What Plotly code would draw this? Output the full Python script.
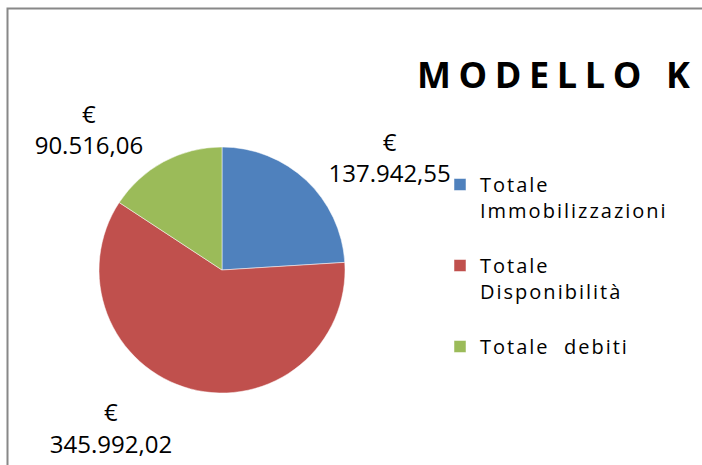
import plotly.graph_objects as go

categories = ["Totale<br>Immobilizzazioni<br>", "Totale<br>Disponibilità<br>", "Totale  debiti"]
values = [137942.55, 345992.02, 90516.06]
colors = ["#4F81BD", "#C0504D", "#9BBB59"]
title_text = "MODELLO K"

W, H = 702, 465
cx, cy, r = 222, 270, 123
r_lab = 132  # radius at which outside labels are anchored


def dom(rad):
    return dict(x=[(cx - rad) / W, (cx + rad) / W],
                y=[(H - cy - rad) / H, (H - cy + rad) / H])


legend_labels = ["<span style='letter-spacing:2px'>" + c + "</span>" for c in categories]

fig = go.Figure()
# transparent pie only carrying the outside value labels (slightly larger radius)
fig.add_trace(go.Pie(
    labels=legend_labels, values=values, sort=False, direction="clockwise", rotation=0,
    marker=dict(colors=["rgba(0,0,0,0)"] * 3, line=dict(width=0)),
    texttemplate="€<br>%{value:,.2f}", textposition="outside",
    textfont=dict(family="Open Sans", size=24, color="black"),
    hoverinfo="skip", showlegend=False, domain=dom(r_lab),
))
fig.add_trace(go.Pie(
    labels=legend_labels, values=values, sort=False, direction="clockwise", rotation=0,
    marker=dict(colors=colors, line=dict(color="white", width=0.5)),
    textinfo="none", hoverinfo="label+value", domain=dom(r),
))

fig.update_layout(
    width=W, height=H,
    margin=dict(l=0, r=0, t=0, b=0),
    paper_bgcolor="white",
    plot_bgcolor="white",
    separators=",.",
    showlegend=True,
    legend=dict(
        x=440 / W, y=(H - 165) / H, xanchor="left", yanchor="top",
        valign="top",
        font=dict(family="Open Sans", size=20, color="black"),
        bgcolor="rgba(0,0,0,0)",
    ),
    annotations=[dict(
        text="<b><span style='letter-spacing:7.6px'>" + title_text + "</span></b>",
        x=415 / W, y=(H - 74.5) / H, xref="paper", yref="paper",
        xanchor="left", yanchor="middle", showarrow=False,
        font=dict(family="Open Sans", size=36, color="black"),
    )],
    shapes=[dict(
        type="rect", xref="paper", yref="paper",
        x0=7.5 / W, x1=1.2, y0=-0.2, y1=(H - 8.5) / H,
        line=dict(color="#888888", width=2), fillcolor="rgba(0,0,0,0)",
    )],
)

fig.write_html("out.html", config={"displayModeBar": False},
               post_script="document.body.style.margin='0';")
